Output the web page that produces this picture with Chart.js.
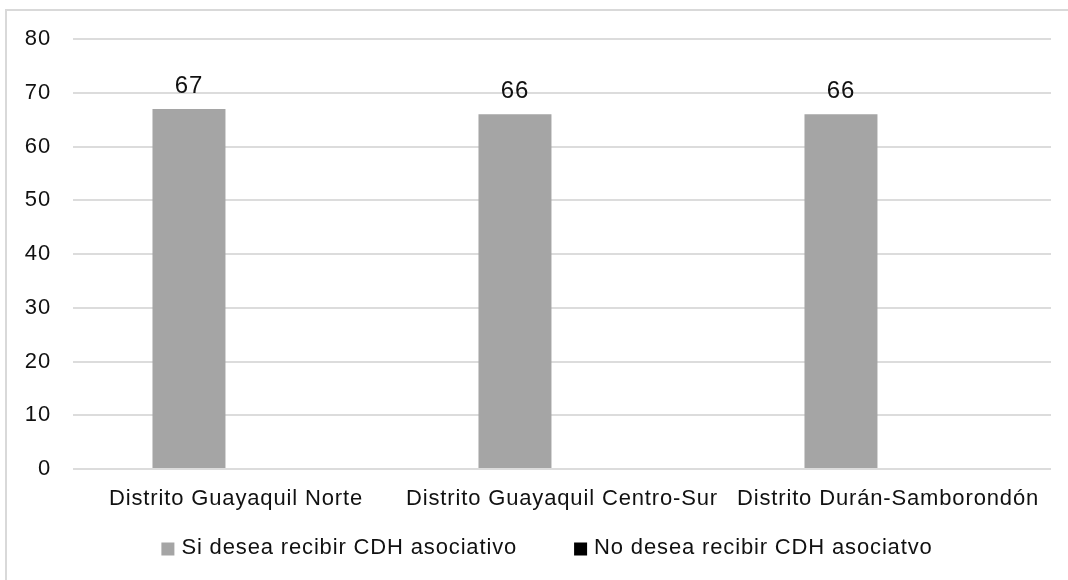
<!DOCTYPE html>
<html>
<head>
<meta charset="utf-8">
<script src="https://cdn.jsdelivr.net/npm/chart.js@4.4.0/dist/chart.umd.min.js"></script>
<style>
html, body { margin: 0; padding: 0; background: #fff; overflow: hidden; }
#wrap { position: relative; width: 1068px; height: 580px; }
#frame { position: absolute; left: 5px; top: 9px; right: -10px; bottom: -10px;
         border-left: 2px solid #d9d9d9; border-top: 2px solid #d9d9d9; }
#chartBox { position: absolute; left: 0; top: 0; width: 1068px; height: 580px; }
</style>
</head>
<body>
<div id="wrap">
  <div id="frame"></div>
  <div id="chartBox"><canvas id="cdhChart"></canvas></div>
</div>
<script>
const distritos = ['Distrito Guayaquil Norte', 'Distrito Guayaquil Centro-Sur', 'Distrito Durán-Samborondón'];
const siDesea = [67, 66, 66];
const noDesea = [0, 0, 0];
const serieNombres = ['Si desea recibir CDH asociativo', 'No desea recibir CDH asociatvo'];

const TEXT = '#111111';
const GRID = '#dcdcdc';
const LETTER_SPACING = '0.85px';
const FONT = "'Liberation Sans', Arial, sans-serif";

Chart.defaults.font.family = FONT;

// espaciado de letras para imitar el texto ancho del original
const letterSpacingPlugin = {
    id: 'letterSpacing',
    beforeUpdate(chart) { chart.ctx.letterSpacing = LETTER_SPACING; },
    beforeDraw(chart) { chart.ctx.letterSpacing = LETTER_SPACING; }
};

// etiquetas de valor encima de las barras de la primera serie
const barValueLabels = {
    id: 'barValueLabels',
    afterDatasetsDraw(chart) {
        const ctx = chart.ctx;
        const meta = chart.getDatasetMeta(0);
        ctx.save();
        ctx.font = '24px ' + FONT;
        ctx.fillStyle = TEXT;
        ctx.textAlign = 'center';
        ctx.textBaseline = 'alphabetic';
        meta.data.forEach((bar, i) => {
            ctx.fillText(String(siDesea[i]), bar.x, bar.y - 16);
        });
        ctx.restore();
    }
};

// leyenda abajo, como en el grafico de Excel
const bottomLegend = {
    id: 'bottomLegend',
    afterDraw(chart) {
        const ctx = chart.ctx;
        const box = 13, gapText = 7, gapItem = 57;
        const centerX = 547, centerY = 548;
        ctx.save();
        ctx.font = '22px ' + FONT;
        const items = chart.data.datasets.map(ds => ({
            text: ds.label,
            color: ds.backgroundColor,
            w: ctx.measureText(ds.label).width
        }));
        let total = items.reduce((s, it) => s + box + gapText + it.w, 0) + gapItem * (items.length - 1);
        let x = centerX - total / 2;
        ctx.textAlign = 'left';
        ctx.textBaseline = 'middle';
        items.forEach(it => {
            ctx.fillStyle = it.color;
            ctx.fillRect(x, centerY - box / 2 + 1, box, box);
            ctx.fillStyle = TEXT;
            ctx.fillText(it.text, x + box + gapText, centerY);
            x += box + gapText + it.w + gapItem;
        });
        ctx.restore();
    }
};

new Chart(document.getElementById('cdhChart'), {
    type: 'bar',
    data: {
        labels: distritos,
        datasets: [{
            label: serieNombres[0],
            data: siDesea,
            backgroundColor: '#a5a5a5',
            borderWidth: 0,
            categoryPercentage: 0.577,
            barPercentage: 0.776
        }, {
            label: serieNombres[1],
            data: noDesea,
            backgroundColor: '#000000',
            borderWidth: 0,
            categoryPercentage: 0.577,
            barPercentage: 0.776
        }]
    },
    options: {
        responsive: true,
        maintainAspectRatio: false,
        animation: false,
        layout: { padding: { left: 23, right: 17, top: 39, bottom: 67 } },
        plugins: {
            tooltip: { enabled: false },
            legend: { display: false }
        },
        scales: {
            x: {
                ticks: { padding: 17, color: TEXT, font: { size: 22 }, maxRotation: 0, autoSkip: false },
                grid: { display: false, drawTicks: false },
                border: { display: false },
                afterFit(scale) { scale.height = 44; }
            },
            y: {
                min: 0,
                max: 80,
                ticks: { stepSize: 10, padding: 22, color: TEXT, font: { size: 22 } },
                grid: { color: GRID, lineWidth: 2, drawTicks: false },
                border: { display: false },
                afterFit(scale) { scale.width = 50; }
            }
        }
    },
    plugins: [letterSpacingPlugin, barValueLabels, bottomLegend]
});
</script>
</body>
</html>
